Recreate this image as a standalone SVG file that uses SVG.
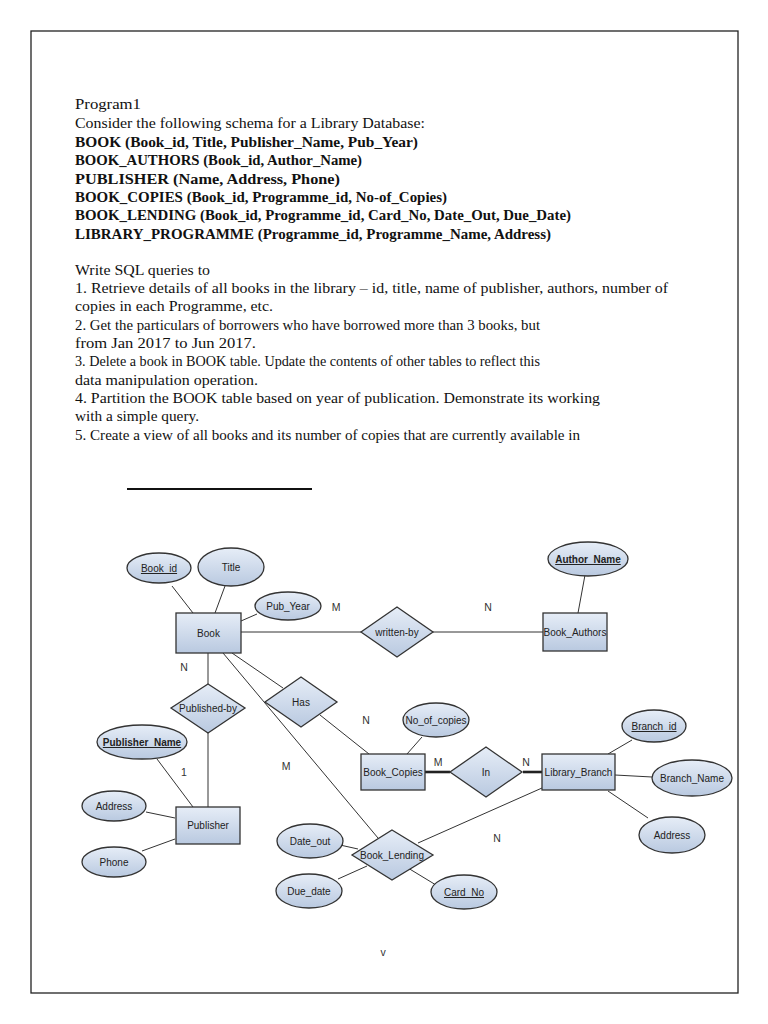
<svg xmlns="http://www.w3.org/2000/svg" width="768" height="1024" viewBox="0 0 768 1024">
<defs>
<linearGradient id="g" x1="0" y1="0" x2="0" y2="1">
<stop offset="0" stop-color="#e6edf7"/>
<stop offset="1" stop-color="#b9c9e0"/>
</linearGradient>
<style>
.doc{font-family:"Liberation Serif","Times New Roman",serif;font-size:15.5px;fill:#111}
.b{font-weight:bold}
.shape{fill:url(#g);stroke:#333;stroke-width:1.3}
.lbl{font-family:"Liberation Sans",Arial,sans-serif;font-size:10px;fill:#222;text-anchor:middle}
.u{text-decoration:underline}
.card{font-family:"Liberation Sans",Arial,sans-serif;font-size:10.5px;fill:#333;text-anchor:middle}
.ln{stroke:#333;stroke-width:1;fill:none}
.thick{stroke:#222;stroke-width:2.6;fill:none}
</style>
</defs>
<rect x="0" y="0" width="768" height="1024" fill="#fff"/>
<rect x="31" y="31" width="707" height="962" fill="none" stroke="#222" stroke-width="1.3"/>

<g id="text-block">
<text class="doc" x="75" y="109" textLength="66" lengthAdjust="spacingAndGlyphs">Program1</text>
<text class="doc" x="75" y="128" textLength="350" lengthAdjust="spacingAndGlyphs">Consider the following schema for a Library Database:</text>
<text class="doc b" x="75" y="147" textLength="343" lengthAdjust="spacingAndGlyphs">BOOK (Book_id, Title, Publisher_Name, Pub_Year)</text>
<text class="doc b" x="75" y="165" textLength="287" lengthAdjust="spacingAndGlyphs">BOOK_AUTHORS (Book_id, Author_Name)</text>
<text class="doc b" x="75" y="184" textLength="265" lengthAdjust="spacingAndGlyphs">PUBLISHER (Name, Address, Phone)</text>
<text class="doc b" x="75" y="202" textLength="372" lengthAdjust="spacingAndGlyphs">BOOK_COPIES (Book_id, Programme_id, No-of_Copies)</text>
<text class="doc b" x="75" y="220" textLength="496" lengthAdjust="spacingAndGlyphs">BOOK_LENDING (Book_id, Programme_id, Card_No, Date_Out, Due_Date)</text>
<text class="doc b" x="75" y="239" textLength="476" lengthAdjust="spacingAndGlyphs">LIBRARY_PROGRAMME (Programme_id, Programme_Name, Address)</text>
<text class="doc" x="75" y="275" textLength="135" lengthAdjust="spacingAndGlyphs">Write SQL queries to</text>
<text class="doc" x="75" y="293" textLength="593" lengthAdjust="spacingAndGlyphs">1. Retrieve details of all books in the library – id, title, name of publisher, authors, number of</text>
<text class="doc" x="75" y="311" textLength="198" lengthAdjust="spacingAndGlyphs">copies in each Programme, etc.</text>
<text class="doc" x="75" y="330" textLength="465" lengthAdjust="spacingAndGlyphs">2. Get the particulars of borrowers who have borrowed more than 3 books, but</text>
<text class="doc" x="75" y="348" textLength="181" lengthAdjust="spacingAndGlyphs">from Jan 2017 to Jun 2017.</text>
<text class="doc" x="75" y="366" textLength="465" lengthAdjust="spacingAndGlyphs">3. Delete a book in BOOK table. Update the contents of other tables to reflect this</text>
<text class="doc" x="75" y="385" textLength="183" lengthAdjust="spacingAndGlyphs">data manipulation operation.</text>
<text class="doc" x="75" y="403" textLength="525" lengthAdjust="spacingAndGlyphs">4. Partition the BOOK table based on year of publication. Demonstrate its working</text>
<text class="doc" x="75" y="421" textLength="124" lengthAdjust="spacingAndGlyphs">with a simple query.</text>
<text class="doc" x="75" y="440" textLength="505" lengthAdjust="spacingAndGlyphs">5. Create a view of all books and its number of copies that are currently available in</text>
<line x1="127" y1="489" x2="312" y2="489" stroke="#111" stroke-width="2"/>
</g>

<g id="connectors">
<line class="ln" x1="172" y1="586" x2="193" y2="613"/>
<line class="ln" x1="225" y1="586" x2="215" y2="613"/>
<line class="ln" x1="257" y1="614" x2="241" y2="621"/>
<line class="ln" x1="241" y1="632" x2="361" y2="632"/>
<line class="ln" x1="433" y1="632" x2="543" y2="632"/>
<line class="ln" x1="585" y1="575" x2="578" y2="613"/>
<line class="ln" x1="208" y1="653" x2="208" y2="684"/>
<line class="ln" x1="208" y1="733" x2="208" y2="807"/>
<line class="ln" x1="157" y1="759" x2="193" y2="807"/>
<line class="ln" x1="146" y1="812" x2="175" y2="818"/>
<line class="ln" x1="142" y1="851" x2="175" y2="839"/>
<line class="ln" x1="232" y1="653" x2="283" y2="688"/>
<line class="ln" x1="223" y1="653" x2="378" y2="838"/>
<line class="ln" x1="320" y1="715" x2="369" y2="754"/>
<line class="ln" x1="422" y1="737" x2="407" y2="754"/>
<line class="thick" x1="425" y1="772" x2="450" y2="772"/>
<line class="thick" x1="523" y1="772" x2="542" y2="772"/>
<line class="ln" x1="632" y1="740" x2="608" y2="754"/>
<line class="ln" x1="615" y1="775" x2="652" y2="777"/>
<line class="ln" x1="608" y1="791" x2="648" y2="818"/>
<line class="ln" x1="418" y1="843" x2="542" y2="788"/>
<line class="ln" x1="340" y1="845" x2="358" y2="849"/>
<line class="ln" x1="338" y1="879" x2="367" y2="866"/>
<line class="ln" x1="408" y1="868" x2="436" y2="885"/>
</g>

<g id="book"><rect class="shape" x="176" y="613" width="65" height="40"/><text class="lbl" x="208.5" y="637">Book</text></g>
<g id="book-authors"><rect class="shape" x="543" y="613" width="64" height="38"/><text class="lbl" x="575" y="636">Book_Authors</text></g>
<g id="publisher"><rect class="shape" x="176" y="807" width="64" height="37"/><text class="lbl" x="208" y="829">Publisher</text></g>
<g id="book-copies"><rect class="shape" x="361" y="754" width="64" height="36"/><text class="lbl" x="393" y="776">Book_Copies</text></g>
<g id="library-branch"><rect class="shape" x="542" y="754" width="73" height="36"/><text class="lbl" x="578.5" y="776">Library_Branch</text></g>

<g id="written-by"><polygon class="shape" points="397,607 433,632 397,657 361,632"/><text class="lbl" x="397" y="636">written-by</text></g>
<g id="published-by"><polygon class="shape" points="208,684 245,708 208,733 171,708"/><text class="lbl" x="208" y="712">Published-by</text></g>
<g id="has"><polygon class="shape" points="301,677 337,702 301,727 265,702"/><text class="lbl" x="301" y="706">Has</text></g>
<g id="in"><polygon class="shape" points="486,747 522,772 486,797 450,772"/><text class="lbl" x="486" y="776">In</text></g>
<g id="book-lending"><polygon class="shape" points="392,830 433,855 392,880 352,855"/><text class="lbl" x="392" y="859">Book_Lending</text></g>

<g id="attr-book-id"><ellipse class="shape" cx="159" cy="568" rx="32" ry="15"/><text class="lbl u" x="159" y="572">Book_id</text></g>
<g id="attr-title"><ellipse class="shape" cx="231" cy="567" rx="33" ry="19"/><text class="lbl" x="231" y="571">Title</text></g>
<g id="attr-pub-year"><ellipse class="shape" cx="288" cy="606" rx="33" ry="14"/><text class="lbl" x="288" y="610">Pub_Year</text></g>
<g id="attr-author-name"><ellipse class="shape" cx="588" cy="559" rx="40" ry="17"/><text class="lbl u b" x="588" y="563">Author_Name</text></g>
<g id="attr-publisher-name"><ellipse class="shape" cx="142" cy="742" rx="45" ry="17" stroke-width="1.6"/><text class="lbl u b" x="142" y="746">Publisher_Name</text></g>
<g id="attr-address-pub"><ellipse class="shape" cx="114" cy="806" rx="32" ry="15"/><text class="lbl" x="114" y="810">Address</text></g>
<g id="attr-phone"><ellipse class="shape" cx="114" cy="862" rx="32" ry="15"/><text class="lbl" x="114" y="866">Phone</text></g>
<g id="attr-no-of-copies"><ellipse class="shape" cx="436" cy="720" rx="33" ry="17"/><text class="lbl" x="436" y="724">No_of_copies</text></g>
<g id="attr-branch-id"><ellipse class="shape" cx="654" cy="726" rx="32" ry="16"/><text class="lbl u" x="654" y="730">Branch_id</text></g>
<g id="attr-branch-name"><ellipse class="shape" cx="692" cy="778" rx="40" ry="18"/><text class="lbl" x="692" y="782">Branch_Name</text></g>
<g id="attr-address-br"><ellipse class="shape" cx="672" cy="835" rx="33" ry="18"/><text class="lbl" x="672" y="839">Address</text></g>
<g id="attr-date-out"><ellipse class="shape" cx="310" cy="841" rx="33" ry="17"/><text class="lbl" x="310" y="845">Date_out</text></g>
<g id="attr-due-date"><ellipse class="shape" cx="309" cy="891" rx="33" ry="17"/><text class="lbl" x="309" y="895">Due_date</text></g>
<g id="attr-card-no"><ellipse class="shape" cx="464" cy="892" rx="33" ry="17"/><text class="lbl u" x="464" y="896">Card_No</text></g>

<g id="cardinalities">
<text class="card" x="336" y="611">M</text>
<text class="card" x="488" y="611">N</text>
<text class="card" x="184" y="671">N</text>
<text class="card" x="184" y="776">1</text>
<text class="card" x="366" y="724">N</text>
<text class="card" x="286" y="770">M</text>
<text class="card" x="438" y="766">M</text>
<text class="card" x="526" y="766">N</text>
<text class="card" x="497" y="842">N</text>
</g>
<text class="card" x="383" y="956" font-size="9">v</text>
</svg>
